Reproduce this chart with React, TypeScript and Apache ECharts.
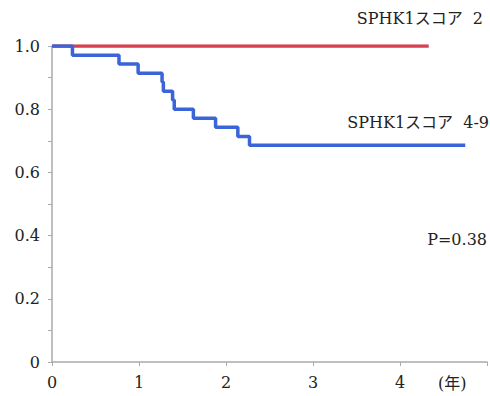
import React, { useEffect, useRef } from "react";
import * as echarts from "echarts";

const redTimes = [0, 4.33];
const redValues = [1.0, 1.0];

const blueTimes = [0, 0.235, 0.77, 0.99, 1.265, 1.28, 1.386, 1.405, 1.625, 1.88, 2.136, 2.27, 4.75];
const blueValues = [1.0, 0.971, 0.943, 0.914, 0.886, 0.857, 0.829, 0.8, 0.771, 0.743, 0.714, 0.686, 0.686];

const xTickLabels = ["0", "1", "2", "3", "4"];
const yTickLabels = ["0", "0.2", "0.4", "0.6", "0.8", "1.0"];

const redLabel = "SPHK1スコア\u00a0\u00a02";
const blueLabel = "SPHK1スコア\u00a0\u00a04-9";
const pLabel = "P=0.38";
const unitLabel = "(年)";

const FONT = "'DejaVu Serif', 'Noto Sans CJK JP'";

export default function App() {
  const ref = useRef<HTMLDivElement>(null);
  useEffect(() => {
    if (!ref.current) return;
    const chart = echarts.init(ref.current, undefined, { renderer: "svg" });
    const textStyle = { fontFamily: FONT, fontSize: 16, fill: "#222" };
    chart.setOption({
      animation: false,
      backgroundColor: "#fff",
      textStyle: { fontFamily: FONT },
      grid: { left: 52, right: -2, top: 46, bottom: 34 },
      xAxis: {
        type: "value",
        min: 0,
        max: 5,
        interval: 1,
        axisLine: { show: true, lineStyle: { color: "#aaa", width: 1.5 } },
        axisTick: { show: true, length: 4, lineStyle: { color: "#aaa" } },
        splitLine: { show: false },
        axisLabel: {
          margin: 12,
          fontFamily: FONT,
          fontSize: 16,
          color: "#222",
          formatter: (v: number) => {
            const i = Math.round(v);
            return i < xTickLabels.length ? xTickLabels[i] : "";
          },
        },
      },
      yAxis: {
        type: "value",
        min: 0,
        max: 1,
        interval: 0.1,
        axisLine: { show: true, lineStyle: { color: "#aaa", width: 1.5 } },
        axisTick: { show: true, length: 4, lineStyle: { color: "#aaa" } },
        splitLine: { show: false },
        axisLabel: {
          margin: 12,
          fontFamily: FONT,
          fontSize: 16,
          color: "#222",
          formatter: (v: number) => {
            const k = Math.round(v * 10);
            if (k % 2 !== 0) return "";
            return yTickLabels[k / 2] ?? "";
          },
        },
      },
      series: [
        {
          type: "line",
          step: "end",
          symbol: "none",
          data: redTimes.map((t, i) => [t, redValues[i]]),
          lineStyle: { color: "#d8404f", width: 3.5 },
          z: 2,
        },
        {
          type: "line",
          step: "end",
          symbol: "none",
          data: blueTimes.map((t, i) => [t, blueValues[i]]),
          lineStyle: { color: "#3a64d8", width: 3.5 },
          z: 3,
        },
      ],
      graphic: [
        { type: "text", right: 7, top: 10, style: { ...textStyle, text: redLabel } },
        { type: "text", right: 1, top: 114, style: { ...textStyle, text: blueLabel } },
        { type: "text", right: 3, top: 231, style: { ...textStyle, text: pLabel } },
        { type: "text", left: 438, top: 375, style: { ...textStyle, text: unitLabel } },
      ],
    });
    return () => chart.dispose();
  }, []);
  return (
    <div
      ref={ref}
      style={{ position: "fixed", left: 0, top: 0, width: 490, height: 396, background: "#fff" }}
    />
  );
}
